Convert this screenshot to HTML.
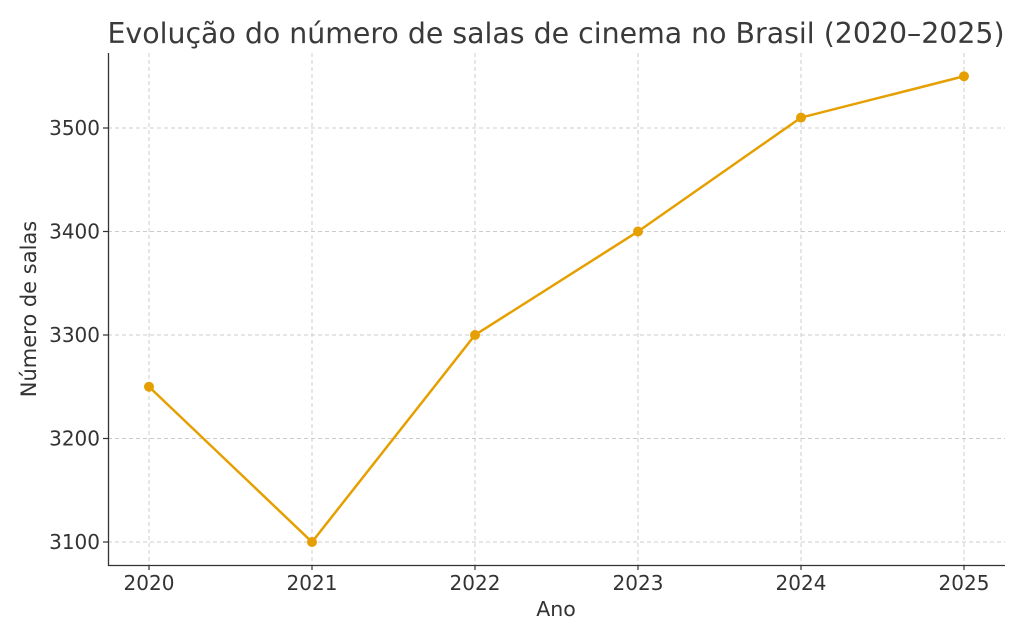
<!DOCTYPE html>
<html><head><meta charset="utf-8"><style>body{margin:0;background:#fff}svg{display:block}</style></head>
<body>
<svg width="1024" height="640" xmlns="http://www.w3.org/2000/svg" font-family="DejaVu Sans, Liberation Sans, sans-serif">
<rect width="1024" height="640" fill="#fff"/>
<g stroke="#cccccc" stroke-width="1" stroke-dasharray="4,3">
<line x1="149" y1="53" x2="149" y2="565"/><line x1="312" y1="53" x2="312" y2="565"/>
<line x1="475" y1="53" x2="475" y2="565"/><line x1="638" y1="53" x2="638" y2="565"/>
<line x1="801" y1="53" x2="801" y2="565"/><line x1="964" y1="53" x2="964" y2="565"/>
<line x1="108" y1="542" x2="1005" y2="542"/><line x1="108" y1="438.5" x2="1005" y2="438.5"/>
<line x1="108" y1="335" x2="1005" y2="335"/><line x1="108" y1="231.5" x2="1005" y2="231.5"/>
<line x1="108" y1="128" x2="1005" y2="128"/>
</g>
<path d="M108.5 53V565.5H1005" fill="none" stroke="#333" stroke-width="1.3"/>
<g stroke="#333" stroke-width="1.2">
<line x1="149" y1="565" x2="149" y2="570"/><line x1="312" y1="565" x2="312" y2="570"/><line x1="475" y1="565" x2="475" y2="570"/><line x1="638" y1="565" x2="638" y2="570"/><line x1="801" y1="565" x2="801" y2="570"/><line x1="964" y1="565" x2="964" y2="570"/>
<line x1="103" y1="542" x2="108" y2="542"/><line x1="103" y1="438.5" x2="108" y2="438.5"/><line x1="103" y1="335" x2="108" y2="335"/><line x1="103" y1="231.5" x2="108" y2="231.5"/><line x1="103" y1="128" x2="108" y2="128"/>
</g>
<g fill="#333" font-size="20" text-anchor="middle">
<text x="149" y="590">2020</text><text x="312" y="590">2021</text><text x="475" y="590">2022</text><text x="638" y="590">2023</text><text x="801" y="590">2024</text><text x="964" y="590">2025</text>
</g>
<g fill="#333" font-size="20" text-anchor="end">
<text x="100" y="549">3100</text><text x="100" y="445.5">3200</text><text x="100" y="342">3300</text><text x="100" y="238.5">3400</text><text x="100" y="135">3500</text>
</g>
<text x="556" y="616" font-size="20.5" fill="#333" text-anchor="middle">Ano</text>
<text transform="translate(36,309) rotate(-90)" font-size="21" fill="#333" text-anchor="middle">Número de salas</text>
<text x="556" y="43" font-size="28.4" fill="#3a3a3a" text-anchor="middle">Evolução do número de salas de cinema no Brasil (2020–2025)</text>
<polyline points="149,386.75 312,542 475,335 638,231.5 801,117.6 964,76.25" fill="none" stroke="#e69f00" stroke-width="2.5"/>
<g fill="#e69f00">
<circle cx="149" cy="386.75" r="5"/><circle cx="312" cy="542" r="5"/><circle cx="475" cy="335" r="5"/><circle cx="638" cy="231.5" r="5"/><circle cx="801" cy="117.6" r="5"/><circle cx="964" cy="76.25" r="5"/>
</g>
</svg>
</body></html>
